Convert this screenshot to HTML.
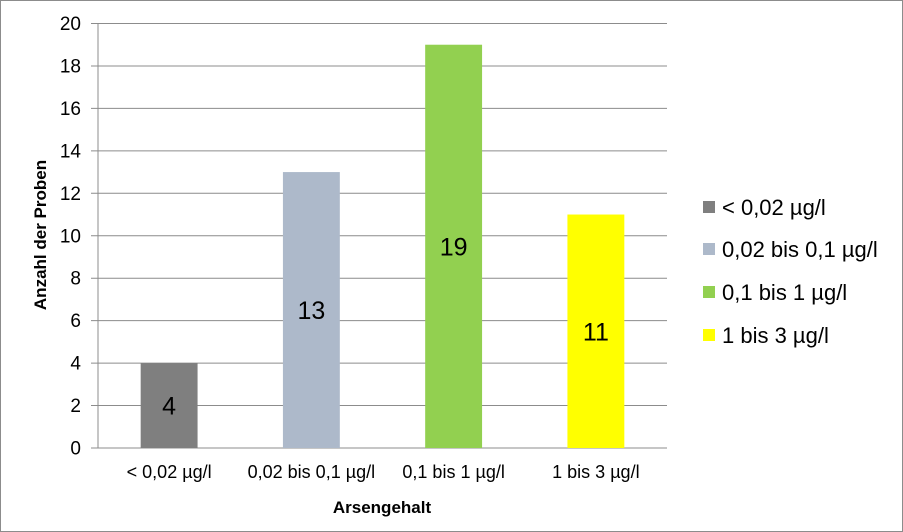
<!DOCTYPE html>
<html><head><meta charset="utf-8">
<style>
html,body{margin:0;padding:0;background:#fff;}
svg{display:block;font-family:"Liberation Sans",Calibri,sans-serif;}
</style></head>
<body>
<svg id="chart" width="903" height="532">
<rect x="0.5" y="0.5" width="902" height="531" fill="#fff" stroke="#8c8c8c"/>
<g id="grid"></g><g id="bars"></g><g id="labels"></g>
<text x="46" y="235" transform="rotate(-90 46 235)" text-anchor="middle" font-size="17" font-weight="bold">Anzahl der Proben</text>
<text x="382" y="513" text-anchor="middle" font-size="17" font-weight="bold">Arsengehalt</text>
<g id="legend"></g>
</svg>
<script>
const categories=["< 0,02 µg/l","0,02 bis 0,1 µg/l","0,1 bis 1 µg/l","1 bis 3 µg/l"];
const values=[4,13,19,11];
const colors=["#7f7f7f","#adb9ca","#92d050","#ffff00"];
const legendLabels=["< 0,02 µg/l","0,02 bis 0,1 µg/l"," 0,1 bis 1 µg/l","1 bis 3 µg/l"];
const yTicks=[0,2,4,6,8,10,12,14,16,18,20];
const NS="http://www.w3.org/2000/svg";
const X0=98,X1=667,Y0=448,Y1=23.5,YMAX=20;
const y=v=>Y0-(v/YMAX)*(Y0-Y1);
const cw=(X1-X0)/categories.length;
const xc=i=>X0+cw*(i+0.5);
function mk(t,a,p){const e=document.createElementNS(NS,t);for(const k in a)e.setAttribute(k,a[k]);p.appendChild(e);return e;}
const grid=document.getElementById('grid'),bars=document.getElementById('bars'),labels=document.getElementById('labels'),legend=document.getElementById('legend');
yTicks.forEach(t=>{
  const l=mk('line',{x1:91,x2:X1,y1:y(t),y2:y(t),stroke:'#8c8c8c','stroke-width':1},grid);
  
  
  const tx=mk('text',{x:81,y:y(t)+6.5,'text-anchor':'end','font-size':19},grid);
  tx.textContent=t;
  
  
});
const ax=mk('line',{x1:X0,x2:X0,y1:Y1,y2:Y0,stroke:'#8c8c8c'},grid);


categories.forEach((c,i)=>{
  const bw=cw*0.4;
  const r=mk('rect',{x:xc(i)-bw/2,y:y(values[i]),width:bw,height:Y0-y(values[i]),fill:colors[i]},bars);
  
  
  const v=mk('text',{x:xc(i),y:(y(values[i])+Y0)/2+9,'text-anchor':'middle','font-size':25},labels);
  v.textContent=values[i];
  
  
  const t=mk('text',{x:xc(i),y:478,'text-anchor':'middle','font-size':18},labels);
  t.textContent=c;
  
  
});
const ly=[208,250,293,336];
legendLabels.forEach((s,i)=>{
  const r=mk('rect',{x:703,y:ly[i]-7,width:12,height:12,fill:colors[i]},legend);
  
  
  const t=mk('text',{x:722,y:ly[i]+7,'font-size':22,'xml:space':'preserve'},legend);
  t.textContent=s;
  
  
});
</script>
</body></html>
